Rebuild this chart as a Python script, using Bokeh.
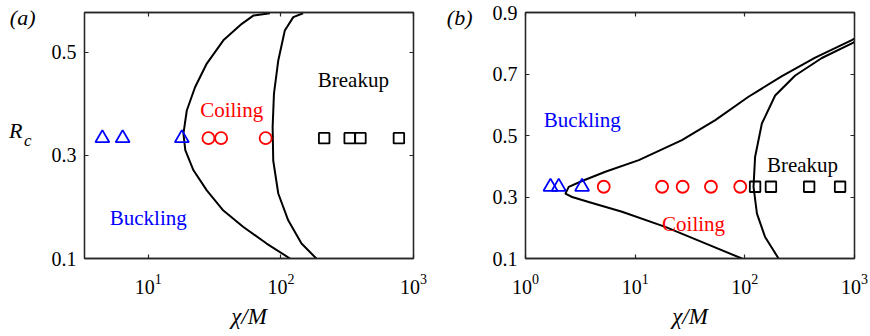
import math
from bokeh.plotting import figure
from bokeh.layouts import row
from bokeh.models import Range1d, LinearAxis, FixedTicker, Label
from bokeh.embed import file_html
from bokeh.resources import INLINE

# ---------------- Panel (a) data ----------------
a_coil_x = [82.6, 61.9, 50.7, 36.8, 27.6, 22.5, 19.5, 18.4, 19.0, 21.9, 27.6, 36.8, 52.1, 78.0, 117]
a_coil_y = [0.5755, 0.571, 0.555, 0.523, 0.478, 0.432, 0.387, 0.342, 0.310, 0.271, 0.232, 0.193, 0.161, 0.129, 0.1]
a_break_x = [147, 124, 107, 95.5, 88.6, 86.6, 87.5, 95.5, 113.5, 143, 185]
a_break_y = [0.5755, 0.568, 0.542, 0.484, 0.419, 0.355, 0.290, 0.226, 0.174, 0.129, 0.1]
a_tri_x = [4.5, 6.4, 17.9]
a_circ_x = [28.4, 35.4, 76.7]
a_sq_x = [212, 330, 398, 776]
a_yticks = [0.1, 0.3, 0.5]
a_xticks = [10, 100, 1000]

# ---------------- Panel (b) data ----------------
b_coil_x = [94, 43.6, 18.8, 7.59, 3.77, 2.66, 2.31, 2.48, 3.28, 5.35, 10.8, 26.7, 53.8, 108, 218, 438, 945, 1000]
b_coil_y = [0.1, 0.149, 0.203, 0.252, 0.284, 0.300, 0.311, 0.333, 0.352, 0.382, 0.420, 0.485, 0.550, 0.626, 0.693, 0.753, 0.810, 0.815]
b_break_x = [203, 153, 129, 120, 124, 143, 189, 288, 504, 977, 1000]
b_break_y = [0.1, 0.170, 0.246, 0.333, 0.430, 0.539, 0.630, 0.695, 0.752, 0.802, 0.805]
b_tri_x = [1.69, 2.01, 3.28]
b_circ_x = [5.17, 17.6, 27.1, 49.1, 90.8]
b_sq_x = [124, 173, 386, 739]
b_yticks = [0.1, 0.3, 0.5, 0.7, 0.9]
b_xticks = [1, 10, 100, 1000]

Rc = 1.0 / 3.0

FONT = "Liberation Serif"
AX = "#262626"
FW, FH = 329, 246


def style_axis(ax, ticks, standoff=8, hide_labels=False):
    ax.ticker = FixedTicker(ticks=ticks, minor_ticks=[])
    ax.major_tick_in = 4
    ax.major_tick_out = 0
    ax.minor_tick_line_color = None
    ax.major_tick_line_color = AX
    ax.major_tick_line_width = 1.2
    ax.axis_line_color = AX
    ax.axis_line_width = 1.3
    ax.major_label_text_font = FONT
    ax.major_label_standoff = standoff
    if hide_labels:
        ax.major_label_text_font_size = "2px"
        ax.major_label_text_alpha = 0
        ax.major_label_overrides = {t: " " for t in ticks}
    else:
        ax.major_label_text_font_size = "20px"
        ax.major_label_text_color = "black"


def make_fig(xr, yr, xticks, yticks, left, right):
    p = figure(x_axis_type="log", x_range=Range1d(*xr), y_range=Range1d(*yr),
               frame_width=FW, frame_height=FH,
               min_border_left=left, min_border_right=right,
               min_border_top=12, min_border_bottom=78,
               output_backend="svg", toolbar_location=None)
    p.xgrid.visible = False
    p.ygrid.visible = False
    p.outline_line_color = AX
    p.outline_line_width = 1.3
    p.background_fill_color = "white"
    p.border_fill_color = "white"
    style_axis(p.xaxis[0], xticks, standoff=15)
    style_axis(p.yaxis[0], yticks, standoff=8)
    xa = p.xaxis[0]
    xa.axis_label = "χ/M"
    xa.axis_label_text_font = FONT
    xa.axis_label_text_font_size = "23px"
    xa.axis_label_text_font_style = "italic"
    xa.axis_label_text_color = "black"
    xa.axis_label_standoff = 7
    top = LinearAxis()
    style_axis(top, xticks, standoff=0, hide_labels=True)
    right_ax = LinearAxis()
    style_axis(right_ax, yticks, standoff=0, hide_labels=True)
    p.add_layout(top, "above")
    p.add_layout(right_ax, "right")
    return p


def y_from_row(yr, row_px):
    """pixel row in the panel (0 = top of canvas, frame top at 12) -> data y"""
    return yr[1] - (row_px - 12) / FH * (yr[1] - yr[0])


def side_text(p, y, text, size, style, standoff):
    """a plain text placed left of the frame through an extra, line-less left axis"""
    ax = LinearAxis(ticker=FixedTicker(ticks=[y], minor_ticks=[]))
    ax.major_label_overrides = {y: text}
    ax.axis_line_color = None
    ax.major_tick_line_color = None
    ax.minor_tick_line_color = None
    ax.major_tick_in = 0
    ax.major_tick_out = 0
    ax.major_label_standoff = standoff
    ax.major_label_text_font = FONT
    ax.major_label_text_font_size = size
    ax.major_label_text_font_style = style
    ax.major_label_text_color = "black"
    p.add_layout(ax, "left")


def add_text(p, x, y, t, color, size="21px"):
    p.add_layout(Label(x=x, y=y, text=t, text_color=color, text_font=FONT,
                       text_font_size=size, text_baseline="alphabetic", text_align="left"))


def draw_markers(p, tri_x, circ_x, sq_x):
    p.scatter(tri_x, [Rc] * len(tri_x), marker="triangle", size=14, fill_color=None,
              line_color="#0000ff", line_width=1.8)
    p.scatter(circ_x, [Rc] * len(circ_x), marker="circle", size=12, fill_color=None,
              line_color="#ff0000", line_width=1.8)
    p.scatter(sq_x, [Rc] * len(sq_x), marker="square", size=10.5, fill_color=None,
              line_color="black", line_width=1.8)


# ---------------- Panel (a) ----------------
A_XR, A_YR = (3.3, 1000), (0.1, 0.577)
pa = make_fig(A_XR, A_YR, a_xticks, a_yticks, 84, 22)
pa.line(a_coil_x, a_coil_y, line_color="black", line_width=2)
pa.line(a_break_x, a_break_y, line_color="black", line_width=2)
draw_markers(pa, a_tri_x, a_circ_x, a_sq_x)
add_text(pa, 189.7, 0.4466, "Breakup", "black")
add_text(pa, 24.6, 0.387, "Coiling", "#ff0000")
add_text(pa, 5.12, 0.179, "Buckling", "#0000ff")
side_text(pa, y_from_row(A_YR, 139.5), "c", "17px", "italic", 17)
side_text(pa, y_from_row(A_YR, 130), "R", "22px", "italic", -2)
side_text(pa, y_from_row(A_YR, 17), "(a)", "22px", "italic", -29)

# ---------------- Panel (b) ----------------
B_XR, B_YR = (1, 1000), (0.1, 0.9)
pb = make_fig(B_XR, B_YR, b_xticks, b_yticks, 90, 16)
pb.line(b_coil_x, b_coil_y, line_color="black", line_width=2)
pb.line(b_break_x, b_break_y, line_color="black", line_width=2)
draw_markers(pb, b_tri_x, b_circ_x, b_sq_x)
add_text(pb, 159, 0.4034, "Breakup", "black")
add_text(pb, 17.6, 0.2116, "Coiling", "#ff0000")
add_text(pb, 1.47, 0.552, "Buckling", "#0000ff")
side_text(pb, y_from_row(B_YR, 17), "(b)", "22px", "italic", 17)

layout = row(pa, pb)
open("out.html", "w").write(file_html(layout, INLINE))
